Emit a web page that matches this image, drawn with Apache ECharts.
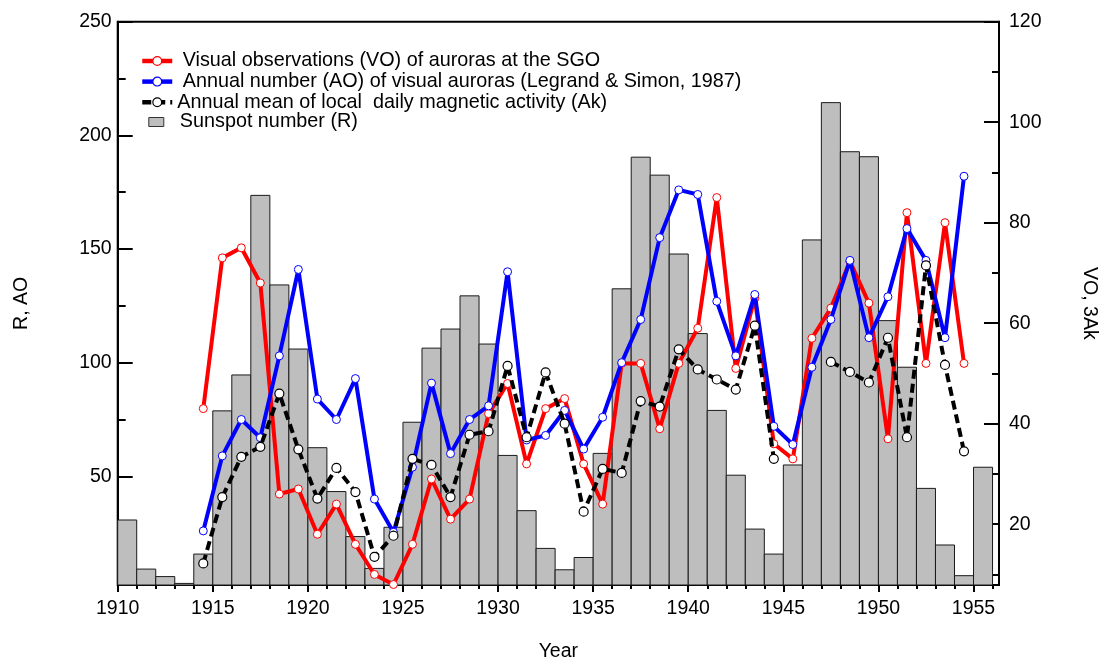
<!DOCTYPE html>
<html>
<head>
<meta charset="utf-8">
<script src="https://cdn.jsdelivr.net/npm/echarts@6/dist/echarts.min.js"></script>
<style>
  html, body { margin: 0; padding: 0; background: #fff; }
  #chart { width: 1103px; height: 661px; }
</style>
</head>
<body>
<div id="chart"></div>
<script>
// ---- Data ----
// Sunspot number (R), yearly, bars span each calendar year
const BAR_YEARS = [1910,1911,1912,1913,1914,1915,1916,1917,1918,1919,1920,1921,1922,1923,1924,1925,1926,1927,1928,1929,1930,1931,1932,1933,1934,1935,1936,1937,1938,1939,1940,1941,1942,1943,1944,1945,1946,1947,1948,1949,1950,1951,1952,1953,1954,1955];
const SUNSPOT_R = [30.8,9.2,5.9,2.9,15.8,78.8,94.6,173.6,134.2,106.0,62.6,43.3,23.5,9.5,27.6,73.8,106.4,114.8,129.4,108.2,59.2,34.9,18.3,8.9,14.3,60.1,132.5,190.4,182.5,147.8,112.8,79.0,50.5,26.8,15.8,55.0,154.0,214.4,192.8,190.6,118.5,98.0,44.7,19.8,6.3,54.0];

// Annual series, plotted at the middle of each year
const LINE_YEARS = [1914,1915,1916,1917,1918,1919,1920,1921,1922,1923,1924,1925,1926,1927,1928,1929,1930,1931,1932,1933,1934,1935,1936,1937,1938,1939,1940,1941,1942,1943,1944,1945,1946,1947,1948,1949,1950,1951,1952,1953,1954];
// Visual observations (VO) of auroras at the SGO  (right axis)
const VO = [43,73,75,68,26,27,18,24,16,10,8,16,29,21,25,42,48,32,43,45,32,24,52,52,39,52,59,85,51,65,36,33,57,63,72.3,64,37,82,52,80,52];
// Annual number (AO) of visual auroras (left axis)
const AO = [26,59,75,67,103,141,84,75,93,40,25.4,54,91,60,75,81,140,66,68,79,62,76,100,119,155,176,174,127,103,130,72,64,98,119,145,111,129,159,145,111,182];
// Annual mean of local daily magnetic activity (Ak) (right axis, 3Ak)
const AK = [12.2,25.4,33.4,35.4,46,34.9,25.1,31.2,26.4,13.5,17.7,33,31.8,25.4,37.8,38.5,51.5,37.3,50.2,40,22.5,31,30.2,44.5,43.4,54.8,50.8,48.8,46.8,59.5,33,null,null,52.3,50.3,48.2,57.1,37.3,71.5,51.7,34.5];

// Tick labels
const X_TICKS = [1910,1915,1920,1925,1930,1935,1940,1945,1950,1955];
const X_MINOR = [1910,1911,1912,1913,1914,1915,1916,1917,1918,1919,1920,1921,1922,1923,1924,1925,1926,1927,1928,1929,1930,1931,1932,1933,1934,1935,1936,1937,1938,1939,1940,1941,1942,1943,1944,1945,1946,1947,1948,1949,1950,1951,1952,1953,1954,1955,1956];
const LEFT_TICKS = [50,100,150,200,250];
const LEFT_MINOR = [25,75,125,175,225];
const RIGHT_TICKS = [20,40,60,80,100,120];
const RIGHT_MINOR = [10,30,50,70,90,110];

const NAME_VO = 'Visual observations (VO) of auroras at the SGO';
const NAME_AO = 'Annual number (AO) of visual auroras (Legrand & Simon, 1987)';
const NAME_AK = 'Annual mean of local  daily magnetic activity (Ak)';
const NAME_R = 'Sunspot number (R)';

// ---- Chart ----
const FONT = '"Liberation Sans", Arial, Helvetica, sans-serif';
const FS = 19.5;
const LFS = 19.8;
const X_MIN = 1910, X_MAX = 1956.34;
const L_MIN = 2.2, L_MAX = 250;
const R_MIN = 7.9, R_MAX = 120;

const chart = echarts.init(document.getElementById('chart'), null, { renderer: 'canvas' });

function pairs(xs, ys, off) {
  return xs.map((x, i) => [x + off, ys[i]]);
}

const option = {
  animation: false,
  backgroundColor: '#fff',
  textStyle: { fontFamily: FONT, color: '#000' },
  grid: {
    left: 117.7, right: 104, top: 21.7, bottom: 76,
    containLabel: false, outerBoundsMode: 'none',
    show: true, borderColor: '#000', borderWidth: 2, backgroundColor: 'transparent'
  },
  legend: [
    {
      left: 135, top: 46, orient: 'vertical', itemWidth: 30, itemHeight: 11, itemGap: 0.6,
      selectedMode: false,
      lineStyle: { width: 4.5 },
      itemStyle: { borderWidth: 1.2 },
      data: [NAME_VO, NAME_AO, NAME_AK],
      formatter: function (name) { return (name === NAME_AK ? '' : ' ') + name; },
      textStyle: { fontFamily: FONT, fontSize: LFS, color: '#000', lineHeight: 20 }
    },
    {
      left: 143.3, top: 107, orient: 'vertical', itemWidth: 15, itemHeight: 9,
      selectedMode: false,
      data: [{ name: NAME_R, icon: 'rect', itemStyle: { color: '#bebebe', borderColor: '#333', borderWidth: 1 } }],
      formatter: '  {name}',
      textStyle: { fontFamily: FONT, fontSize: LFS, color: '#000', lineHeight: 20 }
    }
  ],
  xAxis: [
    {
      type: 'value', min: X_MIN, max: X_MAX, position: 'bottom',
      axisLine: { show: false },
      splitLine: { show: false },
      axisTick: { show: true, inside: false, length: 7, customValues: X_TICKS, lineStyle: { color: '#000', width: 2 } },
      axisLabel: { show: true, customValues: X_TICKS, margin: 14, fontSize: FS, fontFamily: FONT, color: '#000', formatter: v => String(v) },
      name: 'Year', nameLocation: 'middle', nameGap: 57,
      nameTextStyle: { fontSize: FS, fontFamily: FONT, color: '#000' }
    },
    {
      type: 'value', min: X_MIN, max: X_MAX, position: 'bottom',
      axisLine: { show: false }, splitLine: { show: false },
      axisTick: { show: true, inside: false, length: 4, customValues: X_MINOR, lineStyle: { color: '#000', width: 2 } },
      axisLabel: { show: false }
    }
  ],
  yAxis: [
    {
      type: 'value', min: L_MIN, max: L_MAX, position: 'left',
      axisLine: { show: true, lineStyle: { color: '#000', width: 2 } },
      splitLine: { show: false },
      axisTick: { show: true, inside: true, length: 15, customValues: LEFT_TICKS, lineStyle: { color: '#000', width: 2 } },
      axisLabel: { show: true, customValues: LEFT_TICKS, margin: 6, fontSize: FS, fontFamily: FONT, color: '#000' },
      name: 'R, AO', nameLocation: 'middle', nameRotate: 90, nameGap: 86,
      nameTextStyle: { fontSize: FS, fontFamily: FONT, color: '#000' }
    },
    {
      type: 'value', min: R_MIN, max: R_MAX, position: 'right',
      axisLine: { show: true, lineStyle: { color: '#000', width: 2 } },
      splitLine: { show: false },
      axisTick: { show: true, inside: true, length: 15, customValues: RIGHT_TICKS, lineStyle: { color: '#000', width: 2 } },
      axisLabel: { show: true, customValues: RIGHT_TICKS, margin: 10, fontSize: FS, fontFamily: FONT, color: '#000' },
      name: 'VO, 3Ak', nameLocation: 'middle', nameRotate: -90, nameGap: 80,
      nameTextStyle: { fontSize: FS, fontFamily: FONT, color: '#000' }
    },
    {
      type: 'value', min: L_MIN, max: L_MAX, position: 'left',
      axisLine: { show: false }, splitLine: { show: false },
      axisTick: { show: true, inside: true, length: 8, customValues: LEFT_MINOR, lineStyle: { color: '#000', width: 2 } },
      axisLabel: { show: false }
    },
    {
      type: 'value', min: R_MIN, max: R_MAX, position: 'right',
      axisLine: { show: false }, splitLine: { show: false },
      axisTick: { show: true, inside: true, length: 7, customValues: RIGHT_MINOR, lineStyle: { color: '#000', width: 2 } },
      axisLabel: { show: false }
    }
  ],
  series: [
    {
      name: NAME_R,
      type: 'custom',
      xAxisIndex: 0, yAxisIndex: 0,
      itemStyle: { color: '#bebebe', borderColor: '#222', borderWidth: 1 },
      encode: { x: 0, y: 1 },
      data: pairs(BAR_YEARS, SUNSPOT_R, 0),
      renderItem: function (params, api) {
        const x0 = api.value(0), v = api.value(1);
        const pTop = api.coord([x0, v]);
        const pBot = api.coord([x0 + 1, L_MIN]);
        return {
          type: 'rect',
          shape: { x: pTop[0], y: pTop[1], width: pBot[0] - pTop[0], height: pBot[1] - pTop[1] },
          style: { fill: '#bebebe', stroke: '#1a1a1a', lineWidth: 1 }
        };
      },
      z: 1
    },
    {
      name: NAME_VO, type: 'line', xAxisIndex: 0, yAxisIndex: 1,
      data: pairs(LINE_YEARS, VO, 0.5),
      symbol: 'circle', symbolSize: 8,
      itemStyle: { color: '#fff', borderColor: '#ff0000', borderWidth: 1 },
      lineStyle: { color: '#ff0000', width: 4 },
      z: 3
    },
    {
      name: NAME_AO, type: 'line', xAxisIndex: 0, yAxisIndex: 0,
      data: pairs(LINE_YEARS, AO, 0.5),
      symbol: 'circle', symbolSize: 8,
      itemStyle: { color: '#fff', borderColor: '#0000ff', borderWidth: 1 },
      lineStyle: { color: '#0000ff', width: 4 },
      z: 4
    },
    {
      name: NAME_AK, type: 'line', xAxisIndex: 0, yAxisIndex: 1,
      data: pairs(LINE_YEARS, AK, 0.5),
      connectNulls: false,
      symbol: 'circle', symbolSize: 9,
      itemStyle: { color: '#fff', borderColor: '#000', borderWidth: 1.2 },
      lineStyle: { color: '#000', width: 4, type: [9, 5], cap: 'butt' },
      z: 5
    }
  ]
};

chart.setOption(option);
</script>
</body>
</html>
